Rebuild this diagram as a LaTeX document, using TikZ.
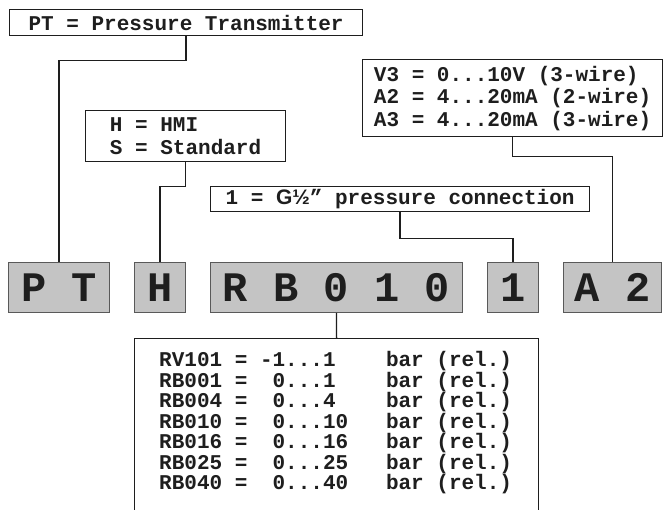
\documentclass[tikz,border=0pt]{standalone}
\usepackage{fontspec}
\setmainfont{Liberation Mono}
\newfontfamily\sansf{Liberation Sans}
\definecolor{codegray}{RGB}{196,196,196}
\definecolor{ink}{RGB}{30,30,30}
\begin{document}
\begin{tikzpicture}[x=1pt,y=-1pt,
  lbl/.style={draw=ink, line width=1.2pt, inner sep=0pt, anchor=north west,
    font=\fontsize{21}{22.5}\selectfont\bfseries, text=ink},
  code/.style={draw=black!65, line width=0.8pt, fill=codegray, inner sep=0pt,
    anchor=north west, minimum height=50pt,
    font=\fontsize{42}{42}\selectfont\bfseries, text=ink},
  conn/.style={line width=1.3pt, draw=ink}]
\useasboundingbox (0,0) rectangle (663,509);
\fill[white] (0,0) rectangle (663,509);
% legend boxes
\node[lbl, minimum width=353pt, minimum height=26pt] (pt) at (9,9) {PT = Pressure Transmitter};
\node[lbl, minimum width=200pt, minimum height=51pt, align=left] (hs) at (85,110) {H = HMI\\S = Standard};
\node[lbl, minimum width=300pt, minimum height=77pt, align=left] (v3) at (362,59)
  {V3 = 0...10V (3-wire)\\A2 = 4...20mA (2-wire)\\A3 = 4...20mA (3-wire)};
\node[lbl, minimum width=379pt, minimum height=25pt] (g) at (210,186) {1 = {\sansf G½}” pressure connection};
% code boxes
\node[code, minimum width=101pt] (PTc) at (8,262) {P T};
\node[code, minimum width=51pt] (Hc) at (134,262) {H};
\node[code, minimum width=252pt] (RBc) at (210,262) {R B 0 1 0};
\node[code, minimum width=51pt] (onec) at (487,262) {1};
\node[code, minimum width=98pt] (Ac) at (563,262) {A 2};
% range list
\node[draw=ink, line width=1.2pt, inner sep=0pt, anchor=north west,
  minimum width=404pt, minimum height=190pt] (list) at (134,338) {};
\node[anchor=west, align=left, inner sep=0pt, text=ink,
  font=\fontsize{21}{20.5}\selectfont\bfseries] (ltxt) at (159,423)
  {RV101 = -1...1~~~~bar (rel.)\\
   RB001 =~~0...1~~~~bar (rel.)\\
   RB004 =~~0...4~~~~bar (rel.)\\
   RB010 =~~0...10~~~bar (rel.)\\
   RB016 =~~0...16~~~bar (rel.)\\
   RB025 =~~0...25~~~bar (rel.)\\
   RB040 =~~0...40~~~bar (rel.)};
% connectors
\draw[conn] (pt.south) -- ++(0,24) -| (PTc.north);
\draw[conn] (hs.south) -- ++(0,24) -| (Hc.north);
\draw[conn] (v3.south) -- ++(0,19) -| (Ac.north);
\draw[conn] (g.south) -- ++(0,26) -| (onec.north);
\draw[conn] (RBc.south) -- (list.north);
\end{tikzpicture}
\end{document}
